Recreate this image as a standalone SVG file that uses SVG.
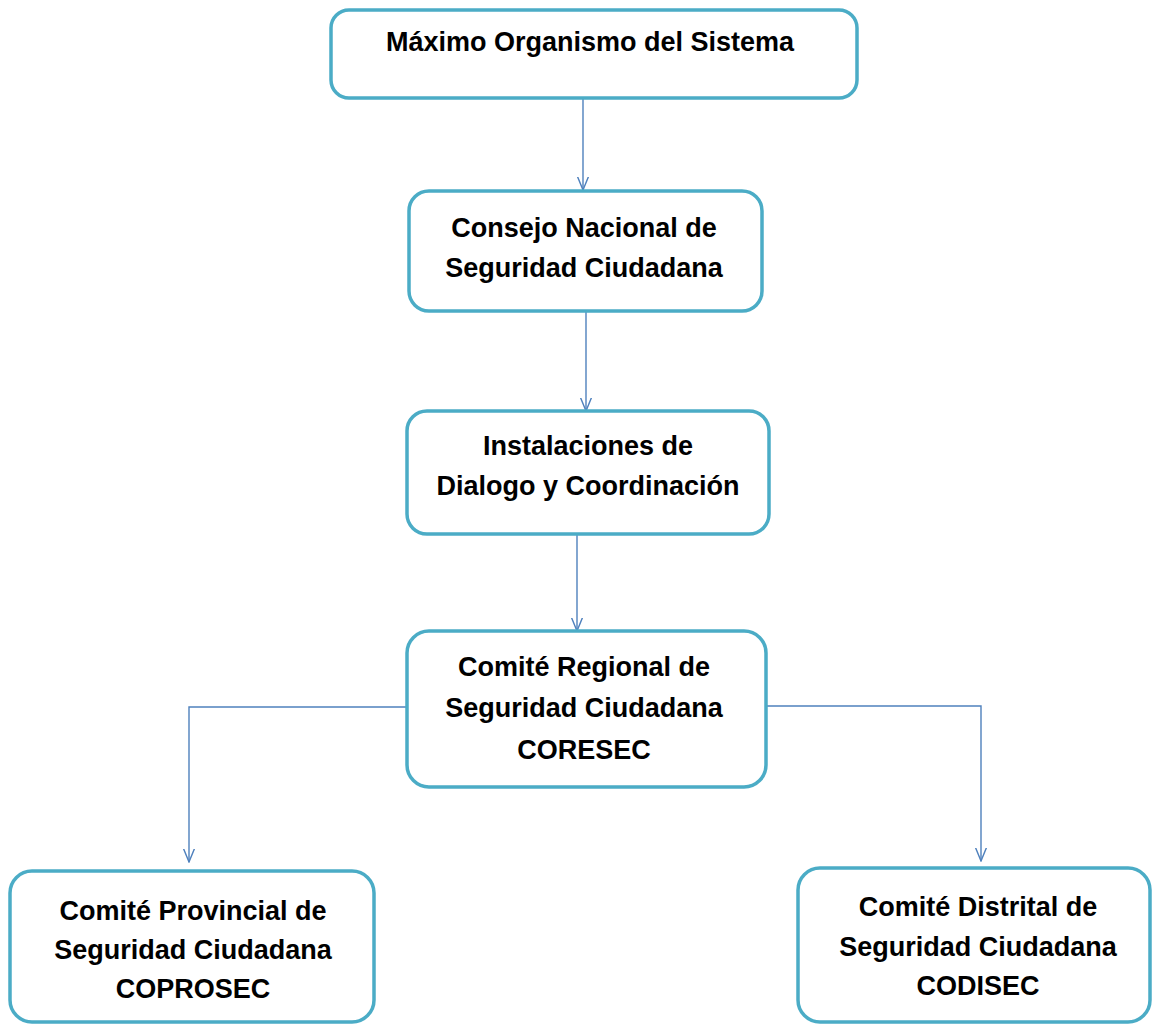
<svg xmlns="http://www.w3.org/2000/svg" width="1156" height="1025" viewBox="0 0 1156 1025">
<style>
.box{fill:#ffffff;stroke:#4bacc6;stroke-width:3.5}
.t{font-family:"Liberation Sans",Arial,sans-serif;font-weight:bold;font-size:27px;fill:#000;text-anchor:middle}
.c{fill:none;stroke:#4f81bd;stroke-width:1.4}
</style>
<defs>
<marker id="ah" markerUnits="userSpaceOnUse" viewBox="0 0 14 12" refX="13.5" refY="6" markerWidth="14" markerHeight="12" orient="auto">
<path d="M0,0.5 L13.5,6 L0,11.5" fill="none" stroke="#4f81bd" stroke-width="1.4"/>
</marker>
</defs>
<rect width="1156" height="1025" fill="#ffffff"/>
<g id="connectors">
<path class="c" d="M583,98 L583,190" marker-end="url(#ah)"/>
<path class="c" d="M586,311 L586,411" marker-end="url(#ah)"/>
<path class="c" d="M577,534 L577,631" marker-end="url(#ah)"/>
<path class="c" d="M407,707 L189,707 L189,862" marker-end="url(#ah)"/>
<path class="c" d="M766,706 L981,706 L981,861" marker-end="url(#ah)"/>
</g>
<g id="n1">
<rect class="box" x="331" y="10" width="526" height="88" rx="18"/>
<text class="t" x="590" y="51">Máximo Organismo del Sistema</text>
</g>
<g id="n2">
<rect class="box" x="409" y="191" width="353" height="120" rx="20"/>
<text class="t" x="584" y="237">Consejo Nacional de</text>
<text class="t" x="584" y="277">Seguridad Ciudadana</text>
</g>
<g id="n3">
<rect class="box" x="407" y="411" width="362" height="123" rx="20"/>
<text class="t" x="588" y="455">Instalaciones de</text>
<text class="t" x="588" y="495">Dialogo y Coordinación</text>
</g>
<g id="n4">
<rect class="box" x="407" y="631" width="359" height="156" rx="22"/>
<text class="t" x="584" y="676">Comité Regional de</text>
<text class="t" x="584" y="717">Seguridad Ciudadana</text>
<text class="t" x="584" y="759">CORESEC</text>
</g>
<g id="n5">
<rect class="box" x="10" y="871" width="364" height="151" rx="22"/>
<text class="t" x="193" y="920">Comité Provincial de</text>
<text class="t" x="193" y="959">Seguridad Ciudadana</text>
<text class="t" x="193" y="998">COPROSEC</text>
</g>
<g id="n6">
<rect class="box" x="798" y="868" width="352" height="154" rx="22"/>
<text class="t" x="978" y="916">Comité Distrital de</text>
<text class="t" x="978" y="956">Seguridad Ciudadana</text>
<text class="t" x="978" y="995">CODISEC</text>
</g>
</svg>
